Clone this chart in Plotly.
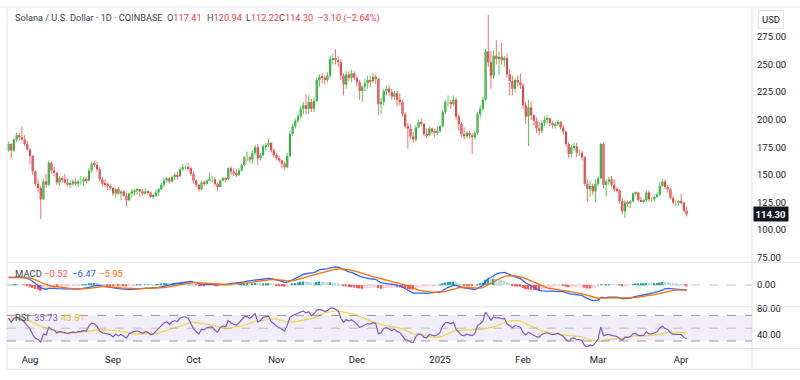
import numpy as np
import pandas as pd
import plotly.graph_objects as go

# ---------------- data ----------------
start_date = "2024-07-24"
first_open = 172.0

close_jul = [178, 172, 182, 186, 184, 182, 178, 173]
high_jul = [180, 179, 183, 188, 188, 194, 186, 181]
low_jul = [171, 165, 171, 180, 181, 181, 176, 172]

close_aug = [167, 153, 142, 138, 128, 144, 141, 161, 154, 152, 143, 147, 146, 143, 141, 142,
             144, 142, 144, 144, 146, 145, 154, 160, 159, 155, 146, 142, 141, 140, 138]
high_aug = [174, 168, 154, 146, 140, 146, 151, 163, 162, 157, 153, 149, 149, 151, 147, 145,
            146, 147, 146, 149, 148, 148, 156, 162, 163, 162, 157, 148, 146, 143, 142]
low_aug = [160, 150, 140, 134, 110, 127, 138, 140, 151, 149, 141, 140, 143, 142, 139, 138,
           140, 140, 139, 141, 140, 142, 144, 152, 157, 153, 144, 140, 139, 136, 136]

close_sep = [133, 137, 133, 135, 131, 127, 133, 135, 136, 137, 135, 133, 135, 134, 130,
             131, 134, 137, 141, 145, 147, 144, 148, 150, 149, 155, 157, 157, 156, 151]
high_sep = [139, 138, 139, 136, 136, 134, 134, 137, 137, 138, 137, 137, 138, 136, 135,
            133, 137, 138, 143, 147, 148, 148, 149, 152, 153, 157, 160, 159, 161, 157]
low_sep = [131, 129, 132, 127, 130, 121, 126, 130, 131, 132, 130, 131, 132, 132, 129,
           128, 130, 131, 136, 139, 143, 142, 143, 145, 146, 148, 154, 155, 154, 149]

close_oct = [145, 141, 137, 143, 142, 145, 146, 146, 142, 139, 145, 147, 146, 156, 153, 151,
             150, 154, 159, 166, 166, 164, 170, 175, 165, 168, 176, 177, 179, 172, 168]
high_oct = [153, 146, 142, 145, 145, 146, 152, 149, 148, 143, 146, 148, 148, 157, 158, 156,
            155, 156, 160, 167, 171, 167, 172, 177, 178, 170, 177, 179, 183, 180, 174]
low_oct = [142, 139, 135, 136, 140, 141, 144, 143, 140, 135, 139, 144, 143, 145, 150, 149,
           148, 149, 153, 158, 162, 161, 160, 168, 159, 163, 167, 172, 175, 170, 165]

close_nov = [165, 163, 160, 157, 167, 187, 194, 199, 203, 210, 213, 210, 216, 210, 217,
             236, 239, 238, 236, 240, 255, 256, 254, 252, 240, 232, 241, 238, 242, 238]
high_nov = [170, 167, 164, 162, 170, 190, 196, 201, 205, 212, 216, 223, 222, 219, 220,
            238, 241, 242, 240, 243, 258, 260, 264, 258, 255, 242, 244, 244, 245, 244]
low_nov = [163, 161, 156, 155, 156, 166, 185, 192, 197, 201, 205, 205, 205, 207, 207,
           216, 230, 233, 232, 234, 238, 250, 250, 248, 236, 222, 228, 235, 234, 236]

close_dec = [234, 226, 230, 233, 236, 235, 239, 237, 214, 216, 226, 228, 225, 221, 224, 218,
             216, 205, 194, 192, 185, 182, 193, 198, 196, 187, 186, 192, 189, 188, 190]
high_dec = [240, 236, 231, 237, 240, 240, 242, 241, 238, 220, 228, 231, 231, 228, 226, 226,
            224, 218, 207, 197, 196, 189, 195, 200, 201, 197, 192, 194, 193, 192, 194]
low_dec = [230, 218, 216, 226, 228, 230, 233, 232, 204, 205, 213, 222, 222, 218, 218, 212,
           213, 203, 192, 174, 182, 179, 180, 192, 194, 185, 183, 185, 187, 184, 186]

close_jan = [194, 207, 216, 216, 214, 218, 203, 196, 187, 185, 188, 186, 184, 188, 205, 210,
             218, 262, 252, 240, 258, 255, 257, 254, 256, 241, 235, 228, 236, 234, 231]
high_jan = [195, 209, 218, 222, 218, 222, 220, 205, 198, 193, 190, 190, 188, 190, 207, 213,
            221, 264, 295, 262, 263, 272, 262, 270, 258, 260, 246, 240, 238, 240, 242]
low_jan = [188, 193, 205, 212, 210, 212, 200, 190, 184, 182, 183, 183, 169, 182, 186, 202,
           208, 217, 248, 228, 237, 250, 240, 250, 248, 238, 222, 222, 225, 230, 228]

close_feb = [213, 203, 211, 204, 199, 192, 190, 197, 200, 201, 197, 195, 196, 198,
             193, 189, 178, 169, 175, 176, 170, 170, 166, 142, 137, 140, 135, 142]
high_feb = [233, 216, 218, 217, 205, 202, 198, 199, 203, 204, 202, 199, 198, 200,
            199, 195, 190, 180, 177, 179, 179, 173, 172, 167, 146, 145, 142, 146]
low_feb = [210, 196, 176, 200, 195, 188, 186, 188, 194, 196, 194, 192, 192, 194,
           191, 187, 175, 165, 166, 172, 166, 167, 163, 140, 126, 130, 132, 125]

close_mar = [147, 178, 141, 144, 146, 141, 137, 136, 126, 117, 125, 124, 126, 133, 134, 127,
             126, 127, 134, 128, 128, 130, 132, 140, 144, 139, 137, 129, 125, 125, 125.5]
high_mar = [149, 179, 179, 146, 148, 149, 146, 139, 137, 129, 127, 127, 127, 134, 135, 135,
            130, 128, 136, 136, 130, 131, 134, 144, 146, 146, 141, 138, 131, 127, 127]
low_mar = [140, 146, 138, 131, 141, 139, 134, 134, 124, 114, 111, 121, 120, 125, 131, 126,
           125, 124, 125, 126, 125, 126, 129, 131, 139, 137, 134, 128, 123, 122, 122]

close_apr = [124.6, 117.41, 114.30]
high_apr = [133, 126, 120.94]
low_apr = [123, 116, 112.22]

# indicator state at the left edge of the picture
macd_seed_fast = 168.0
macd_seed_slow = 159.0
macd_seed_signal = 8.5
rsi_seed_gain = 2.6
rsi_seed_loss = 1.6

month_ticks = ["2024-08-01", "2024-09-01", "2024-10-01", "2024-11-01", "2024-12-01",
               "2025-01-01", "2025-02-01", "2025-03-01", "2025-04-01"]
month_labels = ["Aug", "Sep", "Oct", "Nov", "Dec", "2025", "Feb", "Mar", "Apr"]
price_ticks = [75, 100, 125, 150, 175, 200, 225, 250, 275]

header_title = "Solana / U.S. Dollar · 1D · COINBASE"
hdr_o, hdr_h, hdr_l, hdr_c, hdr_chg = "117.41", "120.94", "112.22", "114.30", "−3.10 (−2.64%)"
macd_leg = ("−0.52", "−6.47", "−5.95")
rsi_leg = ("35.73", "43.81")

# ---------------- assemble ----------------
close = np.array(close_jul + close_aug + close_sep + close_oct + close_nov + close_dec +
                 close_jan + close_feb + close_mar + close_apr, dtype=float)
high = np.array(high_jul + high_aug + high_sep + high_oct + high_nov + high_dec +
                high_jan + high_feb + high_mar + high_apr, dtype=float)
low = np.array(low_jul + low_aug + low_sep + low_oct + low_nov + low_dec +
               low_jan + low_feb + low_mar + low_apr, dtype=float)
opens = np.concatenate([[first_open], close[:-1]])
dates = pd.date_range(start_date, periods=len(close), freq="D")


def ema(values, n, seed):
    a = 2.0 / (n + 1)
    e = seed
    out = []
    for v in values:
        e = e + a * (v - e)
        out.append(e)
    return np.array(out)


macd = ema(close, 12, macd_seed_fast) - ema(close, 26, macd_seed_slow)
signal = ema(macd, 9, macd_seed_signal)
hist = macd - signal

chg = close - opens
ag, al = rsi_seed_gain, rsi_seed_loss
rsi = []
for c in chg:
    ag = (ag * 13 + max(c, 0)) / 14
    al = (al * 13 + max(-c, 0)) / 14
    rsi.append(100 - 100 / (1 + ag / al))
rsi = np.array(rsi)
rsi_ma = pd.Series(rsi).rolling(14, min_periods=1).mean().values

# ---------------- styles ----------------
FONT = "Roboto, Arial, sans-serif"
W, H = 800, 380
TXT = "#131722"
SEP = "#e0e3eb"
UP_BODY, DN_BODY = "#2f8a36", "#c62828"
UP_WICK, DN_WICK = "#4ccc4c", "#ee6e6e"
DAY_MS = 86400000


def px_x(x):
    return x / W


def px_y(y):
    return 1 - y / H


up = close >= opens
fig = go.Figure()

# wicks
for mask, col in ((up, UP_WICK), (~up, DN_WICK)):
    wx, wy = [], []
    for d, lo, hi in zip(dates[mask], low[mask], high[mask]):
        wx += [d, d, None]
        wy += [lo, hi, None]
    fig.add_trace(go.Scatter(x=wx, y=wy, mode="lines", line=dict(color=col, width=1),
                             hoverinfo="skip", xaxis="x", yaxis="y"))

# bodies
fig.add_trace(go.Bar(x=dates, base=np.minimum(opens, close), y=np.abs(close - opens),
                     width=0.78 * DAY_MS,
                     marker=dict(color=[UP_BODY if u else DN_BODY for u in up], line=dict(width=0)),
                     hoverinfo="skip", xaxis="x", yaxis="y"))

# MACD histogram
hcols = []
for i, hv in enumerate(hist):
    prev = hist[i - 1] if i > 0 else hv
    if hv >= 0:
        hcols.append("#26A69A" if hv > prev else "#B2DFDB")
    else:
        hcols.append("#FFCDD2" if hv > prev else "#FF5252")
fig.add_trace(go.Bar(x=dates, y=hist, width=0.6 * DAY_MS, marker=dict(color=hcols, line=dict(width=0)),
                     hoverinfo="skip", xaxis="x2", yaxis="y2"))
fig.add_trace(go.Scatter(x=dates, y=macd, mode="lines", line=dict(color="#2962FF", width=1.3),
                         hoverinfo="skip", xaxis="x2", yaxis="y2"))
fig.add_trace(go.Scatter(x=dates, y=signal, mode="lines", line=dict(color="#FF6D00", width=1.3),
                         hoverinfo="skip", xaxis="x2", yaxis="y2"))

# RSI
fig.add_trace(go.Scatter(x=dates, y=rsi_ma, mode="lines", line=dict(color="#F5D142", width=1.2),
                         hoverinfo="skip", xaxis="x3", yaxis="y3"))
fig.add_trace(go.Scatter(x=dates, y=rsi, mode="lines", line=dict(color="#7E57C2", width=1.2),
                         hoverinfo="skip", xaxis="x3", yaxis="y3"))

# MACD pane scale: zero line at y=285 px, peak of the lines near the pane top
peak = max(macd.max(), signal.max())
ppu = (285 - 266.7) / peak
macd_range = [-(307 - 285) / ppu, (285 - 262) / ppu]

x_range = ["2024-07-23 10:00", "2025-04-27 10:00"]
xcommon = dict(type="date", range=x_range, showgrid=False, zeroline=False, showline=False,
               ticks="", fixedrange=True, domain=[px_x(7), px_x(752)])
ycommon = dict(side="right", showgrid=False, zeroline=False, showline=False, ticks="",
               fixedrange=True, ticklabelstandoff=4,
               tickfont=dict(family=FONT, size=9.5, color=TXT))

shapes = []
for y in (4, 262, 307, 349, 370):
    shapes.append(dict(type="line", xref="paper", yref="paper", x0=px_x(0 if y == 4 else 7), x1=1,
                       y0=px_y(y), y1=px_y(y), line=dict(color=SEP, width=1)))
for x in (7, 752):
    shapes.append(dict(type="line", xref="paper", yref="paper", x0=px_x(x), x1=px_x(x),
                       y0=px_y(370), y1=px_y(4), line=dict(color=SEP, width=1)))
shapes.append(dict(type="rect", xref="x3 domain", yref="y3", x0=0, x1=1, y0=30, y1=70,
                   fillcolor="rgba(126,87,194,0.1)", line=dict(width=0), layer="below"))
for lvl, col, dash in ((70, "#9598a1", "dash"), (50, "rgba(149,152,161,0.6)", "dash"), (30, "#9598a1", "dash")):
    shapes.append(dict(type="line", xref="x3 domain", yref="y3", x0=0, x1=1, y0=lvl, y1=lvl,
                       line=dict(color=col, width=1, dash=dash)))
shapes.append(dict(type="line", xref="x2 domain", yref="y2", x0=0, x1=1, y0=0, y1=0,
                   line=dict(color="rgba(149,152,161,0.6)", width=1, dash="dash"), layer="below"))


def ann(text, x, y, color=TXT, size=9.5, **kw):
    d = dict(text=text, xref="paper", yref="paper", x=px_x(x), y=px_y(y), xanchor="left",
             yanchor="middle", showarrow=False, font=dict(family=FONT, size=size, color=color))
    d.update(kw)
    return d


RED = "#F23645"
annotations = [
    ann(header_title, 13, 15, color="#3b3f4a", size=9.2),
    ann(f"O<span style='color:{RED}'>{hdr_o}</span>", 165, 15, color="#3b3f4a", size=9.2),
    ann(f"H<span style='color:{RED}'>{hdr_h}</span>", 204.5, 15, color="#3b3f4a", size=9.2),
    ann(f"L<span style='color:{RED}'>{hdr_l}</span>", 244, 15, color="#3b3f4a", size=9.2),
    ann(f"C<span style='color:{RED}'>{hdr_c}</span>", 276.5, 15, color="#3b3f4a", size=9.2),
    ann(hdr_chg, 316, 15, color=RED, size=9.2),
    ann("MACD", 13, 273.5, color="#3b3f4a"),
    ann(macd_leg[0], 41.5, 273.5, color="#FF5252"),
    ann(macd_leg[1], 70, 273.5, color="#2962FF"),
    ann(macd_leg[2], 96.5, 273.5, color="#FF6D00"),
    ann("RSI", 13, 317.5, color="#3b3f4a"),
    ann(rsi_leg[0], 31.5, 317.5, color="#7E57C2"),
    ann(rsi_leg[1], 59, 317.5, color="#F2C12E"),
    dict(text="USD", xref="paper", yref="paper", x=px_x(771), y=px_y(17), xanchor="center",
         yanchor="middle", showarrow=False, font=dict(family=FONT, size=9.5, color=TXT),
         bordercolor=SEP, borderwidth=1, borderpad=3, bgcolor="white"),
    dict(text=f"<b>{close[-1]:.2f}</b>", xref="paper", yref="y", x=px_x(753), y=close[-1],
         xanchor="left", yanchor="middle", showarrow=False,
         font=dict(family=FONT, size=9.5, color="white"), bgcolor=TXT, borderpad=1.5),
]

fig.update_layout(
    width=W, height=H, margin=dict(l=0, r=0, t=0, b=0),
    paper_bgcolor="white", plot_bgcolor="white", showlegend=False, barmode="overlay",
    xaxis=dict(anchor="y", showticklabels=False, **xcommon),
    xaxis2=dict(anchor="y2", matches="x", showticklabels=False, **xcommon),
    xaxis3=dict(anchor="y3", matches="x", tickvals=month_ticks, ticktext=month_labels,
                ticklabelstandoff=4,
                tickfont=dict(family=FONT, size=9.5, color=TXT), **xcommon),
    yaxis=dict(anchor="x", domain=[px_y(262), px_y(4)], range=[70.8, 302.2],
               tickvals=price_ticks, ticktext=[f"{v:.2f}" for v in price_ticks], **ycommon),
    yaxis2=dict(anchor="x2", domain=[px_y(307), px_y(262)], range=macd_range,
                tickvals=[0], ticktext=["0.00"], **ycommon),
    yaxis3=dict(anchor="x3", domain=[px_y(349), px_y(307)], range=[18.5, 83.5],
                tickvals=[40, 80], ticktext=["40.00", "80.00"], **ycommon),
    shapes=shapes, annotations=annotations,
)

fig.write_html("out.html", config={"displayModeBar": False},
               post_script="document.body.style.margin='0';document.body.style.overflow='hidden';")
